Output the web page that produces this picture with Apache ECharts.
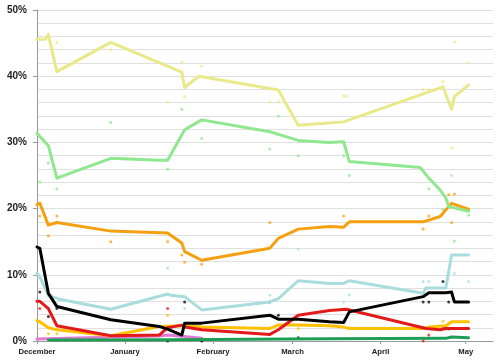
<!DOCTYPE html>
<html><head><meta charset="utf-8">
<script src="https://cdn.jsdelivr.net/npm/echarts@6/dist/echarts.min.js"></script>
<style>html,body{margin:0;padding:0;background:#fff}#c{width:501px;height:363px}</style>
</head><body><div id="c"></div>
<script>
// Month tick labels (at the 1st of each month)
var monthLabels = ['December','January','February','March','April','May'];
var monthStarts = ['2009-12-01','2010-01-01','2010-02-01','2010-03-01','2010-04-01','2010-05-01'];

// Trend lines [date, percent]
var paleYellowTrend = [['2009-12-01',45.6],['2009-12-04',45.6],['2009-12-05',46.3],['2009-12-08',40.7],['2009-12-27',45.1],['2010-01-21',40.6],['2010-01-22',38.3],['2010-01-27',40.0],['2010-02-24',37.9],['2010-03-03',32.6],['2010-03-19',33.1],['2010-04-23',38.4],['2010-04-26',35.0],['2010-04-27',36.9],['2010-05-02',38.7]];
var lightGreenTrend = [['2009-12-01',31.4],['2009-12-05',29.5],['2009-12-08',24.6],['2009-12-27',27.6],['2010-01-13',27.3],['2010-01-16',27.3],['2010-01-22',31.9],['2010-01-28',33.4],['2010-02-21',31.6],['2010-03-03',30.3],['2010-03-14',30.0],['2010-03-19',30.1],['2010-03-21',27.1],['2010-04-15',26.2],['2010-04-18',24.6],['2010-04-22',22.8],['2010-04-24',21.6],['2010-04-25',20.3],['2010-05-02',19.6]];
var orangeTrend = [['2009-12-01',20.6],['2009-12-02',20.8],['2009-12-05',17.5],['2009-12-08',17.9],['2009-12-27',16.6],['2010-01-16',16.3],['2010-01-21',14.8],['2010-01-22',13.5],['2010-01-28',12.2],['2010-02-21',14.0],['2010-02-24',15.5],['2010-03-03',16.9],['2010-03-14',17.3],['2010-03-19',17.2],['2010-03-21',18.0],['2010-04-16',18.0],['2010-04-22',18.8],['2010-04-25',20.3],['2010-04-26',20.8],['2010-05-02',19.9]];
var lightCyanTrend = [['2009-12-01',10.2],['2009-12-02',9.7],['2009-12-05',6.9],['2009-12-09',6.3],['2009-12-27',4.8],['2010-01-16',7.1],['2010-01-17',6.9],['2010-01-22',6.7],['2010-01-28',4.7],['2010-02-21',5.9],['2010-02-24',6.4],['2010-03-03',9.1],['2010-03-14',8.7],['2010-03-19',8.7],['2010-03-21',9.1],['2010-04-16',7.2],['2010-04-17',8.0],['2010-04-24',8.0],['2010-04-26',13.0],['2010-05-02',13.0]];
var blackTrend = [['2009-12-01',14.2],['2009-12-02',14.0],['2009-12-05',7.2],['2009-12-08',5.2],['2009-12-27',3.2],['2010-01-13',2.2],['2010-01-16',1.8],['2010-01-21',0.9],['2010-01-22',2.7],['2010-01-28',2.7],['2010-02-21',3.9],['2010-02-24',3.3],['2010-03-03',3.3],['2010-03-14',2.9],['2010-03-19',2.8],['2010-03-21',4.4],['2010-04-16',6.7],['2010-04-18',7.3],['2010-04-24',7.3],['2010-04-26',7.4],['2010-04-27',5.9],['2010-05-02',5.9]];
var redTrend = [['2009-12-01',6.0],['2009-12-02',6.0],['2009-12-05',4.9],['2009-12-08',2.3],['2009-12-27',0.8],['2010-01-13',0.9],['2010-01-16',2.0],['2010-01-21',2.4],['2010-01-22',2.1],['2010-01-28',1.7],['2010-02-21',1.0],['2010-02-24',1.7],['2010-03-03',3.9],['2010-03-14',4.6],['2010-03-20',4.8],['2010-04-17',1.9],['2010-04-22',1.7],['2010-04-24',1.9],['2010-04-26',1.9],['2010-05-02',1.9]];
var goldTrend = [['2009-12-01',3.1],['2009-12-02',2.9],['2009-12-05',2.0],['2009-12-08',1.7],['2009-12-27',0.8],['2010-01-13',2.2],['2010-01-22',2.3],['2010-01-28',2.1],['2010-02-21',1.9],['2010-02-24',2.4],['2010-03-03',2.4],['2010-03-14',2.3],['2010-03-19',2.1],['2010-03-21',1.9],['2010-04-16',1.9],['2010-04-18',2.1],['2010-04-24',2.3],['2010-04-26',2.9],['2010-05-02',2.9]];
var pinkTrend = [['2009-12-01',0.3],['2010-01-13',0.75],['2010-01-16',0.9],['2010-01-21',0.7],['2010-01-28',0.4]];
var greenTrend = [['2009-12-05',0.15],['2010-01-16',0.2],['2010-03-14',0.35],['2010-04-24',0.4],['2010-04-26',0.6],['2010-05-02',0.5]];

// Individual polls [date, percent]
var paleYellowPolls = [['2009-12-08',45.1],['2009-12-27',44.0],['2010-01-16',36.1],['2010-01-21',42.1],['2010-01-22',36.9],['2010-01-28',41.5],['2010-02-21',36.1],['2010-02-24',36.1],['2010-03-19',37.0],['2010-03-20',37.0],['2010-04-16',38.0],['2010-04-18',38.0],['2010-04-23',39.2],['2010-04-26',29.1],['2010-04-27',45.2],['2010-05-02',42.0]];
var lightGreenPolls = [['2009-12-02',24.0],['2009-12-05',26.9],['2009-12-08',23.0],['2009-12-27',33.0],['2010-01-16',26.0],['2010-01-21',35.0],['2010-01-28',30.6],['2010-02-21',29.0],['2010-02-24',34.0],['2010-03-03',28.0],['2010-03-19',28.0],['2010-03-21',25.0],['2010-04-18',23.0],['2010-04-23',19.9],['2010-04-27',15.1],['2010-05-02',19.0]];
var orangePolls = [['2009-12-02',18.9],['2009-12-05',15.9],['2009-12-08',18.9],['2009-12-27',15.0],['2010-01-16',15.0],['2010-01-21',13.0],['2010-01-22',11.9],['2010-01-28',11.6],['2010-02-21',17.9],['2010-03-19',18.9],['2010-04-16',16.9],['2010-04-18',18.9],['2010-04-25',22.1],['2010-04-26',17.9],['2010-04-27',22.2]];
var lightCyanPolls = [['2010-01-16',11.0],['2010-01-22',4.9],['2010-02-21',6.9],['2010-03-03',13.9],['2010-03-19',5.9],['2010-03-21',7.0],['2010-04-16',9.0],['2010-04-18',9.0],['2010-04-26',25.0],['2010-04-27',10.2],['2010-05-02',9.0]];
var blackPolls = [['2009-12-02',7.4],['2009-12-05',3.7],['2009-12-08',4.9],['2010-01-16',0.0],['2010-01-22',5.9],['2010-01-28',0.0],['2010-02-21',5.9],['2010-02-24',3.9],['2010-03-03',0.5],['2010-04-16',5.9],['2010-04-18',5.9],['2010-04-23',9.0],['2010-04-25',5.9]];
var redPolls = [['2009-12-02',4.9],['2010-01-16',4.9],['2010-04-16',0.0],['2010-04-18',0.9],['2010-04-23',2.1],['2010-04-25',1.8]];
var goldPolls = [['2009-12-05',1.1],['2009-12-08',1.1],['2010-01-16',3.9],['2010-03-03',1.9],['2010-04-23',3.0]];

var origin = Date.UTC(2009, 11, 1);
function dayOf(s){ var p = s.split('-'); return (Date.UTC(+p[0], +p[1]-1, +p[2]) - origin) / 86400000; }
function conv(arr){ return arr.map(function(d){ return [dayOf(d[0]), d[1]]; }); }
var monthDays = monthStarts.map(dayOf);

var colors = {
  paleYellow:'#e9e98a', lightGreen:'#8fe88f', orange:'#f5a011', lightCyan:'#a9dddd',
  black:'#000000', red:'#e31a1a', gold:'#ffc000', pink:'#e07ad6', green:'#1e9e55'
};

function lineS(data, c, w){ return {type:'line', data:conv(data), symbol:'none', smooth:false, z:3,
  lineStyle:{color:c, width:w||3, join:'round', cap:'round'}, itemStyle:{color:c}, animation:false}; }
function dotS(data, c){ return {type:'scatter', data:conv(data), symbol:'circle', symbolSize:3, z:2,
  itemStyle:{color:c, opacity:0.75}, animation:false}; }

var chart = echarts.init(document.getElementById('c'));
chart.setOption({
  backgroundColor:'#fff',
  animation:false,
  grid:{left:37, right:8, top:10, bottom:22},
  xAxis:{type:'value', min:0, max:160.6,
    axisLine:{show:true, lineStyle:{color:'#9a9a9a', width:1}},
    axisTick:{show:true, customValues:monthDays, length:3, lineStyle:{color:'#9a9a9a'}},
    splitLine:{show:false},
    axisLabel:{customValues:monthDays, color:'#222', fontFamily:'Liberation Sans', fontWeight:'bold', fontSize:7.7, margin:7,
      formatter:function(v){ var i = monthDays.indexOf(v); return i>=0 ? monthLabels[i] : ''; }}
  },
  yAxis:{type:'value', min:0, max:50, interval:10,
    axisLine:{show:true, lineStyle:{color:'#9a9a9a'}},
    axisTick:{show:true, length:4, lineStyle:{color:'#9a9a9a'}},
    splitLine:{show:true, lineStyle:{color:'#e0e0e0', width:1}},
    minorTick:{show:false, splitNumber:5},
    minorSplitLine:{show:true, lineStyle:{color:'#e0e0e0', width:1}},
    axisLabel:{color:'#222', fontFamily:'Liberation Sans', fontWeight:'bold', fontSize:10, margin:10,
      formatter:function(v){ return v + '%'; }}
  },
  series:[
    dotS(paleYellowPolls, colors.paleYellow), dotS(lightGreenPolls, colors.lightGreen),
    dotS(orangePolls, colors.orange), dotS(lightCyanPolls, colors.lightCyan),
    dotS(blackPolls, colors.black), dotS(redPolls, colors.red), dotS(goldPolls, colors.gold),
    lineS(pinkTrend, colors.pink), lineS(greenTrend, colors.green),
    lineS(goldTrend, colors.gold), lineS(redTrend, colors.red), lineS(lightCyanTrend, colors.lightCyan),
    lineS(orangeTrend, colors.orange), lineS(lightGreenTrend, colors.lightGreen),
    lineS(paleYellowTrend, colors.paleYellow), lineS(blackTrend, colors.black)
  ]
});
</script></body></html>
